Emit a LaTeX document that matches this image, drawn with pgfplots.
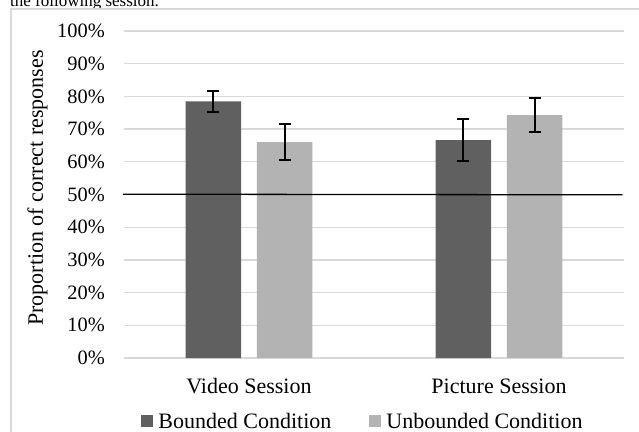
\documentclass[border=0pt]{standalone}
\usepackage{fontspec}
\setmainfont{Liberation Serif}
\usepackage{pgfplots}
\pgfplotsset{compat=1.18}
\definecolor{bnd}{HTML}{606060}
\definecolor{unb}{HTML}{B3B3B3}
\definecolor{grd}{HTML}{D9D9D9}
\pgfplotstableread{
x y e
-0.1424 78.5 3.3
0.8576 66.6 6.5
}\bounded
\pgfplotstableread{
x y e
0.1424 66.0 5.5
1.1424 74.3 5.2
}\unbounded
\begin{document}
\begin{tikzpicture}[x=1bp,y=1bp]
\path[use as bounding box] (0,0) rectangle (639,-431);
\node[anchor=base west, inner sep=0pt, font=\fontsize{17bp}{20bp}\selectfont] at (10,-6.5) {the following session.};
\draw[grd, line width=1.5bp] (10.75,-460) |- (700,-8.75);
\begin{axis}[
  at={(124bp,-358bp)}, anchor=south west,
  scale only axis, width=500bp, height=327bp,
  xmin=-0.5, xmax=1.5, ymin=0, ymax=100,
  axis line style={draw=none},
  major tick length=0pt, tick style={draw=none},
  ymajorgrids, grid style={grd, line width=1.3bp},
  ytick={0,10,...,100},
  /pgf/number format/assume math mode=true,
  yticklabel={\pgfmathprintnumber{\tick}\%},
  yticklabel style={anchor=east, inner sep=0pt, xshift=-19bp, font=\fontsize{20.4bp}{24bp}\selectfont},
  xtick={0,1}, xticklabels={Video Session, Picture Session},
  xticklabel style={anchor=base, inner sep=0pt, yshift=-35bp, font=\fontsize{22bp}{26bp}\selectfont},
  every axis y label/.style={at={(axis description cs:-0.162,0.52)}, rotate=90, anchor=base, inner sep=0pt, font=\fontsize{22bp}{26bp}\selectfont},
  ylabel={Proportion of correct responses},
  clip=false,
  legend columns=2,
  legend style={draw=none, fill=none, inner sep=0pt, anchor=center,
    at={(axis description cs:0.476,-0.196)},
    nodes={inner sep=0pt}, font=\fontsize{22bp}{26bp}\selectfont,
    /tikz/every odd column/.append style={column sep=5bp},
    /tikz/every even column/.append style={column sep=38bp}},
  legend image code/.code={\fill[#1] (0bp,-5bp) rectangle (12bp,7bp);},
]
\addplot[ybar, bar width=55.5bp, bar shift=0pt, fill=bnd, draw=none,
  error bars/.cd, y dir=both, y explicit,
  error bar style={draw=black, line width=2bp},
  error mark options={rotate=90, draw=black, line width=2bp, mark size=6bp}]
  table[x=x, y=y, y error=e] {\bounded};
\addlegendentry{Bounded Condition}
\addplot[ybar, bar width=55.5bp, bar shift=0pt, fill=unb, draw=none,
  error bars/.cd, y dir=both, y explicit,
  error bar style={draw=black, line width=2bp},
  error mark options={rotate=90, draw=black, line width=2bp, mark size=6bp}]
  table[x=x, y=y, y error=e] {\unbounded};
\addlegendentry{Unbounded Condition}
\addplot[black, line width=1.3bp, forget plot] coordinates {(-0.505,50.1) (1.493,49.9)};
\end{axis}
\end{tikzpicture}
\end{document}
